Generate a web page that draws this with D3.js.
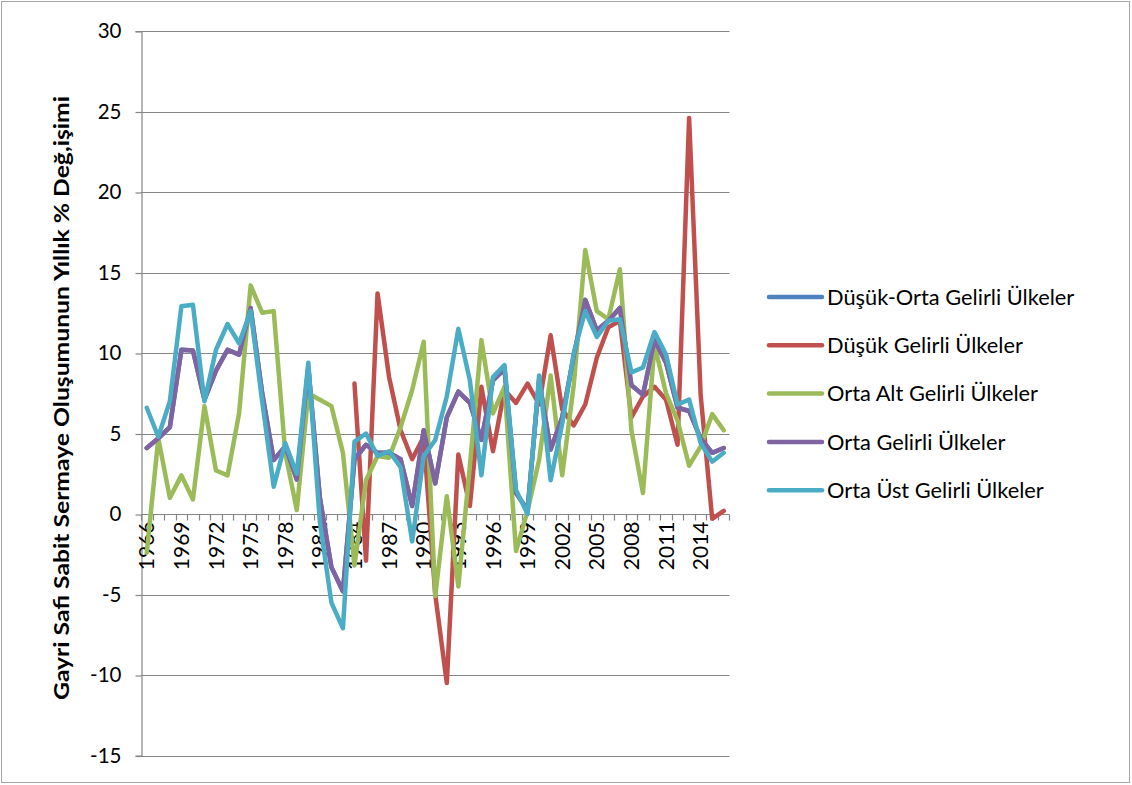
<!DOCTYPE html>
<html>
<head>
<meta charset="utf-8">
<script src="https://cdn.jsdelivr.net/npm/d3@7"></script>
<style>
  body { margin: 0; background: #fff; }
  svg { display: block; }
  text { font-family: Lato, "Open Sans", sans-serif; fill: #000; }
</style>
</head>
<body>
<svg id="chart" width="1132" height="785"></svg>
<script>
// ======================================================================
// DATA
// ======================================================================

var years = [1966, 1967, 1968, 1969, 1970, 1971, 1972, 1973, 1974, 1975,
             1976, 1977, 1978, 1979, 1980, 1981, 1982, 1983, 1984, 1985,
             1986, 1987, 1988, 1989, 1990, 1991, 1992, 1993, 1994, 1995,
             1996, 1997, 1998, 1999, 2000, 2001, 2002, 2003, 2004, 2005,
             2006, 2007, 2008, 2009, 2010, 2011, 2012, 2013, 2014, 2015, 2016];

var yTicks = [-15, -10, -5, 0, 5, 10, 15, 20, 25, 30];

var seriesNames = ["Düşük-Orta Gelirli Ülkeler", "Düşük Gelirli Ülkeler",
                   "Orta Alt Gelirli Ülkeler", "Orta Gelirli Ülkeler",
                   "Orta Üst Gelirli Ülkeler"];

// hidden under the purple line almost everywhere
var dusukOrta = [4.1, 4.7, 5.4, 10.2, 10.15, 7.1, 8.9, 10.2, 9.9, 12.8,
                 7.5, 3.35, 4.2, 2.15, 9.1, 1.0, -3.3, -4.8, 3.4, 4.3,
                 3.8, 3.8, 3.4, 0.5, 5.2, 1.9, 6.0, 7.6, 6.9, 4.6,
                 8.3, 9.0, 1.3, 0.25, 8.3, 4.0, 6.0, 9.8, 13.3, 11.4,
                 12.0, 12.8, 8.0, 7.4, 10.8, 9.4, 6.6, 6.4, 4.7, 3.8, 4.1];

var dusuk = [null, null, null, null, null, null, null, null, null, null,
             null, null, null, null, null, null, null, null, 8.1, -2.9,
             13.7, 8.5, 5.2, 3.4, 4.8, -5.0, -10.5, 3.7, 0.5, 7.9,
             3.9, 7.7, 6.9, 8.1, 6.8, 11.1, 6.5, 5.5, 6.8, 9.7,
             11.6, 12.0, 6.0, 7.3, 7.9, 7.1, 4.3, 24.6, 7.4, -0.3, 0.2];

var ortaAlt = [-2.4, 4.7, 1.0, 2.4, 0.9, 6.7, 2.7, 2.4, 6.25, 14.2,
               12.5, 12.6, 3.8, 0.25, 7.5, 7.1, 6.7, 3.8, -3.2, 2.1,
               3.6, 3.5, 5.4, 7.7, 10.7, -5.1, 1.1, -4.5, 3.0, 10.8,
               6.25, 7.9, -2.3, 0.2, 3.35, 8.6, 2.4, 8.0, 16.4, 12.6,
               12.1, 15.2, 5.2, 1.3, 10.5, 7.5, 5.8, 3.0, 4.2, 6.2, 5.2];

var orta = [4.1, 4.7, 5.4, 10.2, 10.15, 7.1, 8.9, 10.2, 9.9, 12.8,
            7.5, 3.35, 4.2, 2.15, 9.1, 1.0, -3.3, -4.8, 3.4, 4.3,
            3.8, 3.8, 3.4, 0.5, 5.2, 1.9, 6.0, 7.6, 6.9, 4.6,
            8.3, 9.0, 1.3, 0.25, 8.3, 4.0, 6.0, 9.8, 13.3, 11.4,
            12.0, 12.8, 8.0, 7.4, 10.8, 9.4, 6.6, 6.4, 4.7, 3.8, 4.1];

var ortaUst = [6.6, 4.8, 7.0, 12.9, 13.0, 7.0, 10.2, 11.8, 10.6, 12.6,
               7.0, 1.7, 4.4, 2.5, 9.4, -0.5, -5.5, -7.1, 4.5, 5.0,
               3.6, 3.9, 2.9, -1.7, 3.6, 4.6, 7.3, 11.5, 8.3, 2.4,
               8.5, 9.25, 1.5, 0.0, 8.6, 2.1, 5.6, 10.0, 12.6, 11.0,
               12.0, 12.1, 8.8, 9.1, 11.3, 9.9, 6.8, 7.1, 4.4, 3.25, 3.8];

var seriesColors = ["#4f81bd", "#c0504d", "#9bbb59", "#8064a2", "#4bacc6"];

// ======================================================================
// CHART
// ======================================================================

var svg = d3.select("#chart");
var allSeries = [dusukOrta, dusuk, ortaAlt, orta, ortaUst];

// outer frame
svg.append("rect")
    .attr("x", 1.5).attr("y", 1.5)
    .attr("width", 1128).attr("height", 781)
    .attr("fill", "none").attr("stroke", "#a6a6a6");

var x = d3.scaleBand().domain(years).range([141, 729.5]).padding(0);
var y = d3.scaleLinear().domain([-15, 30]).range([755.5, 31]);

function cx(yr) { return x(yr) + x.bandwidth() / 2; }

// gridlines
svg.append("g").selectAll("line")
    .data(yTicks)
    .join("line")
    .attr("x1", 141).attr("x2", 729.5)
    .attr("y1", function(d) { return Math.round(y(d)) + 0.5; })
    .attr("y2", function(d) { return Math.round(y(d)) + 0.5; })
    .attr("stroke", "#868686").attr("stroke-width", 1.2);

// y axis (plain hyphen for negatives, like the original)
var yAxis = svg.append("g")
    .attr("transform", "translate(141.5,0)")
    .call(d3.axisLeft(y).tickValues(yTicks).tickSize(6).tickPadding(14)
        .tickFormat(function(d) { return String(d); }));
yAxis.select(".domain").attr("stroke", "#868686").attr("stroke-width", 1.2);
yAxis.selectAll(".tick line").attr("stroke", "#868686").attr("stroke-width", 1.2)
    .attr("y1", 0.5).attr("y2", 0.5);
yAxis.selectAll(".tick text")
    .style("font-family", "Lato, 'Open Sans', sans-serif")
    .style("font-size", "20.5px").attr("fill", "#000");

// x axis sits at zero
var y0 = Math.round(y(0)) + 0.5;
var xAxis = svg.append("g");
xAxis.selectAll("line")
    .data(years.concat(["end"]))
    .join("line")
    .attr("x1", function(d) { return d === "end" ? 729.5 : Math.round(x(d)) + 0.5; })
    .attr("x2", function(d) { return d === "end" ? 729.5 : Math.round(x(d)) + 0.5; })
    .attr("y1", y0).attr("y2", y0 + 6)
    .attr("stroke", "#868686").attr("stroke-width", 1.2);

xAxis.selectAll("text")
    .data(years.filter(function(d, i) { return i % 3 === 0; }))
    .join("text")
    .attr("transform", function(d) { return "translate(" + cx(d) + "," + (y0 + 7) + ") rotate(-90)"; })
    .attr("dy", "0.36em")
    .attr("text-anchor", "end")
    .style("font-size", "21px")
    .text(function(d) { return d; });

// series lines
var line = d3.line()
    .defined(function(d) { return d[1] !== null; })
    .x(function(d) { return cx(d[0]); })
    .y(function(d) { return y(d[1]); });

svg.append("g").selectAll("path")
    .data(allSeries)
    .join("path")
    .attr("d", function(s) { return line(years.map(function(yr, i) { return [yr, s[i]]; })); })
    .attr("fill", "none")
    .attr("stroke", function(s, i) { return seriesColors[i]; })
    .attr("stroke-width", 4.5)
    .attr("stroke-linejoin", "round")
    .attr("stroke-linecap", "round");

// y axis title
svg.append("text")
    .attr("transform", "translate(62,398) rotate(-90)")
    .attr("text-anchor", "middle")
    .attr("dy", "0.35em")
    .attr("textLength", 604)
    .attr("lengthAdjust", "spacingAndGlyphs")
    .style("font-size", "20px")
    .style("font-weight", "bold")
    .text("Gayri Safi Sabit Sermaye Oluşumunun Yıllık % Değ,işimi");

// ======================================================================
// LEGEND
// ======================================================================

var legend = svg.append("g").selectAll("g")
    .data(seriesNames)
    .join("g")
    .attr("transform", function(d, i) { return "translate(769," + (297 + i * 48.3) + ")"; });

legend.append("line")
    .attr("x1", 0).attr("x2", 53)
    .attr("stroke", function(d, i) { return seriesColors[i]; })
    .attr("stroke-width", 4.5)
    .attr("stroke-linecap", "round");

legend.append("text")
    .attr("x", 58)
    .attr("dy", "0.36em")
    .style("font-size", "21.8px")
    .text(function(d) { return d; });
</script>
</body>
</html>
